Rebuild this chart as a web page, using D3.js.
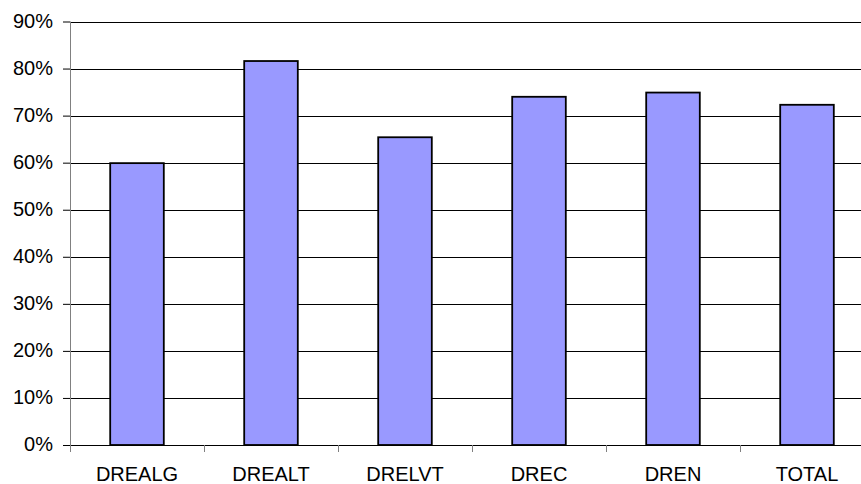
<!DOCTYPE html>
<html><head><meta charset="utf-8">
<script src="https://cdn.jsdelivr.net/npm/d3@7"></script>
<style>html,body{margin:0;padding:0;background:#fff;overflow:hidden}</style>
</head><body>
<svg id="c" width="861" height="484"></svg>
<script>
const categories = ["DREALG","DREALT","DRELVT","DREC","DREN","TOTAL"];
const values = [0.599, 0.816, 0.654, 0.740, 0.749, 0.723];
const yTicks = [0,0.1,0.2,0.3,0.4,0.5,0.6,0.7,0.8,0.9];

(function(){
const svg = d3.select("#c");
const mLeft = 70, mRight = 874, mTop = 21.5, mBottom = 445;
const x = d3.scaleBand().domain(categories).range([mLeft, mRight]).paddingInner(0).paddingOuter(0);
const y = d3.scaleLinear().domain([0, 0.9]).range([mBottom, mTop]);
const font = "'Liberation Sans', Arial, sans-serif";

// gridlines
svg.append("g").selectAll("line").data(yTicks.slice(1)).join("line")
  .attr("x1", mLeft).attr("x2", mRight)
  .attr("y1", d => Math.round(y(d)) + 0.5).attr("y2", d => Math.round(y(d)) + 0.5)
  .attr("stroke", "#000").attr("stroke-width", 1);

// bars
const bw = x.bandwidth() * 0.4;
svg.append("g").selectAll("rect").data(values).join("rect")
  .attr("x", (d, i) => x(categories[i]) + (x.bandwidth() - bw) / 2)
  .attr("y", d => y(d))
  .attr("width", bw)
  .attr("height", d => y(0) - y(d))
  .attr("fill", "#9999ff").attr("stroke", "#000").attr("stroke-width", 1.8);

// y axis
const yAxis = d3.axisLeft(y).tickValues(yTicks).tickFormat(d3.format(".0%")).tickSize(7).tickPadding(10);
const gy = svg.append("g").attr("transform", `translate(${mLeft},0)`).call(yAxis);
gy.select(".domain").attr("stroke", "#808080").attr("d", `M0.5,${mTop}V${mBottom}`);
gy.selectAll(".tick line").attr("stroke", "#000");
gy.selectAll("text").attr("font-family", font).attr("font-size", 20).attr("fill", "#000").attr("dy", "0.28em");

// x axis
const gx = svg.append("g").attr("transform", `translate(0,${mBottom})`);
gx.append("line").attr("x1", mLeft).attr("x2", mRight).attr("y1", 0.5).attr("y2", 0.5).attr("stroke", "#000");
const bounds = categories.map(c => x(c)).concat([mRight]);
gx.selectAll("line.tk").data(bounds).join("line").attr("class","tk")
  .attr("x1", d => Math.round(d) + 0.5).attr("x2", d => Math.round(d) + 0.5)
  .attr("y1", 0).attr("y2", 7).attr("stroke", "#808080");
gx.selectAll("text").data(categories).join("text")
  .attr("x", d => x(d) + x.bandwidth() / 2).attr("y", 35.5)
  .attr("text-anchor", "middle").attr("font-family", font).attr("font-size", 20).attr("fill", "#000")
  .text(d => d);
})();
</script>
</body></html>
